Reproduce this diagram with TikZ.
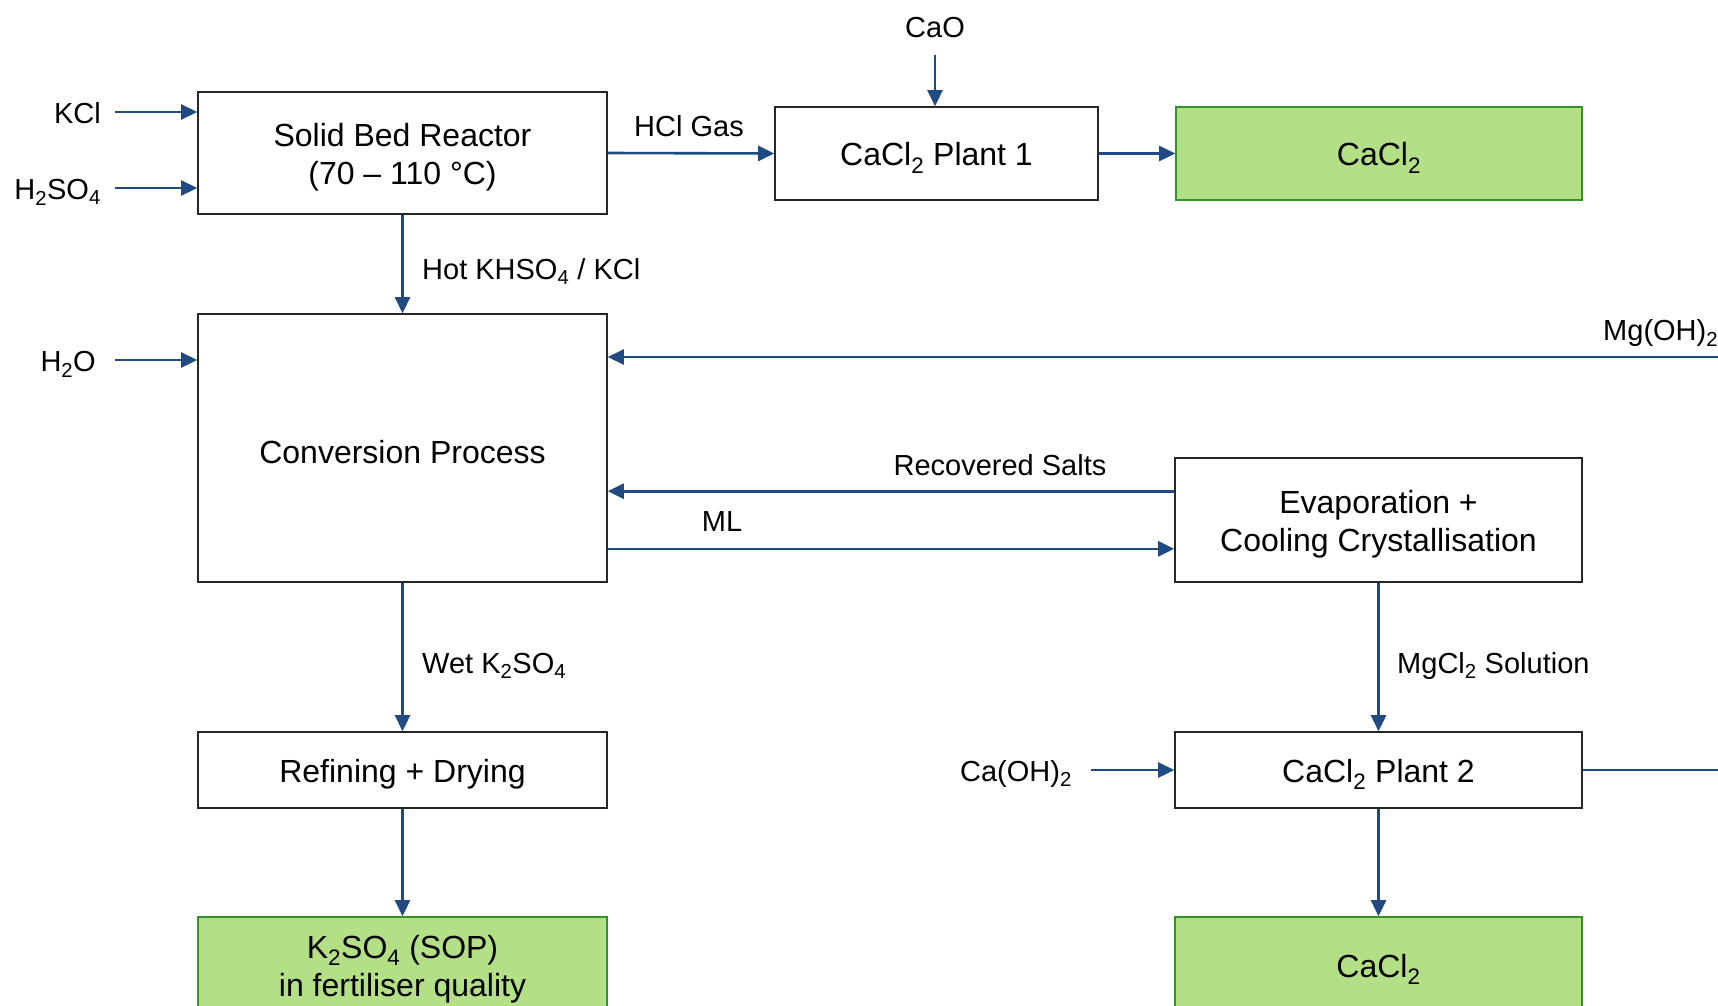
\documentclass[tikz,border=0pt]{standalone}
\usepackage{fontspec}
\setmainfont{Liberation Sans}
\usetikzlibrary{arrows.meta}
\definecolor{flowblue}{RGB}{31,74,130}
\definecolor{prodfill}{RGB}{179,223,134}
\definecolor{prodline}{RGB}{56,145,40}
% raises the top of the first line so box texts sit a little lower
\newcommand{\topstrut}{\rule{0pt}{1em}}

\begin{document}
\begin{tikzpicture}[x=1pt,y=-1pt,
  unit/.style={draw=black!85, line width=1.6pt, fill=white, inner sep=0pt,
    align=center, font=\fontsize{32}{38}\selectfont},
  product/.style={unit, fill=prodfill, draw=prodline},
  lbl/.style={inner sep=0pt, font=\fontsize{29}{34}\selectfont},
  arr/.style={draw=flowblue, line width=2.6pt, -{Triangle[length=16pt,width=15pt]}},
  feed/.style={draw=flowblue, line width=1.4pt},
  ]
\clip (0,0) rectangle (1718,1006);
\fill[white] (0,0) rectangle (1718,1006);

% process units
\node[unit, minimum width=409pt, minimum height=122pt] (sbr) at (402.5,153)
  {\topstrut Solid Bed Reactor\\(70 – 110 °C)};
\node[unit, minimum width=323pt, minimum height=93pt] (p1) at (936.5,153.5)
  {\topstrut CaCl\textsubscript{2} Plant 1};
\node[product, minimum width=406pt, minimum height=93pt] (cat) at (1379,153.5)
  {\topstrut CaCl\textsubscript{2}};
\node[unit, minimum width=409pt, minimum height=268pt] (conv) at (402.5,448)
  {\topstrut Conversion Process};
\node[unit, minimum width=407pt, minimum height=124pt] (evap) at (1378.5,520)
  {\topstrut Evaporation +\\Cooling Crystallisation};
\node[unit, minimum width=409pt, minimum height=76pt] (ref) at (402.5,770)
  {\topstrut Refining + Drying};
\node[unit, minimum width=407pt, minimum height=76pt] (p2) at (1378.5,770)
  {\topstrut CaCl\textsubscript{2} Plant 2};
\node[product, minimum width=409pt, minimum height=96pt] (sop) at (402.5,965)
  {\topstrut K\textsubscript{2}SO\textsubscript{4} (SOP)\\in fertiliser quality};
\node[product, minimum width=407pt, minimum height=96pt] (cab) at (1378.5,965)
  {\topstrut CaCl\textsubscript{2}};

% stream labels
\node[lbl, anchor=base] (caolbl) at (935,37.5) {CaO};
\node[lbl, anchor=base east] (kcllbl) at (101,123.5) {KCl};
\node[lbl, anchor=base east] (hsolbl) at (101,199.5) {H\textsubscript{2}SO\textsubscript{4}};
\node[lbl, anchor=base] (hcllbl) at (689,136.5) {HCl Gas};
\node[lbl, anchor=base west] (hotlbl) at (422,279.5) {Hot KHSO\textsubscript{4} / KCl};
\node[lbl, anchor=base east] (h2olbl) at (96,371.5) {H\textsubscript{2}O};
\node[lbl, anchor=base west] (mglbl) at (1603,340.5) {Mg(OH)\textsubscript{2}};
\node[lbl, anchor=base] (reclbl) at (1000,475) {Recovered Salts};
\node[lbl, anchor=base] (mllbl) at (722,531) {ML};
\node[lbl, anchor=base west] (wetlbl) at (422,673) {Wet K\textsubscript{2}SO\textsubscript{4}};
\node[lbl, anchor=base west] (mgcllbl) at (1397,673) {MgCl\textsubscript{2} Solution};
\node[lbl, anchor=base east] (caohlbl) at (1072,781) {Ca(OH)\textsubscript{2}};

% free ends of feed and return streams
\coordinate (caoin) at (935,55);
\coordinate (kclin) at (115,112);
\coordinate (hsoin) at (115,188);
\coordinate (h2oin) at (115,360);
\coordinate (mgin) at (1718,357);
\coordinate (caohin) at (1091,770);
\coordinate (p2out) at (1718,770);
\coordinate (recout) at ([yshift=-34pt]evap.north west);
\coordinate (mlout) at ([yshift=34pt]conv.south east);

% streams
\draw[arr] (caoin) -- (caoin |- p1.north);
\draw[arr] (kclin) -- (kclin -| sbr.west);
\draw[arr] (hsoin) -- (hsoin -| sbr.west);
\draw[arr] (sbr.east) -- (p1.west);
\draw[arr] (p1.east) -- (cat.west);
\draw[arr] (sbr.south) -- (conv.north);
\draw[arr] (h2oin) -- (h2oin -| conv.west);
\draw[arr] (mgin) -- (mgin -| conv.east);
\draw[arr] (recout) -- (recout -| conv.east);
\draw[arr] (mlout) -- (mlout -| evap.west);
\draw[arr] (conv.south) -- (ref.north);
\draw[arr] (evap.south) -- (p2.north);
\draw[arr] (caohin) -- (p2.west);
\draw[feed] (p2.east) -- (p2out);
\draw[arr] (ref.south) -- (sop.north);
\draw[arr] (p2.south) -- (cab.north);
\end{tikzpicture}
\end{document}
